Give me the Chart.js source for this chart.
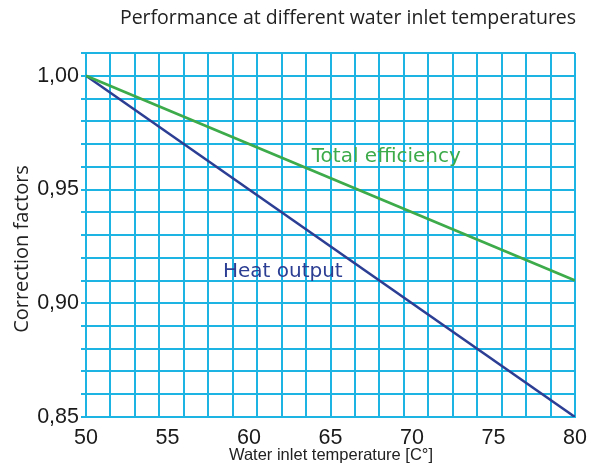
<!DOCTYPE html>
<html>
<head>
<meta charset="utf-8">
<script src="https://cdn.jsdelivr.net/npm/chart.js@4"></script>
<style>
  html, body { margin: 0; padding: 0; background: #fff; }
  #wrap { width: 595px; height: 466px; position: relative; }
</style>
</head>
<body>
<div id="wrap"><canvas id="chart" width="595" height="466"></canvas></div>
<script>
// temperatures (C) and correction factors
const temps = [50, 80];
const heatOutput = [1.00, 0.85];
const totalEfficiency = [1.00, 0.91];
const yTickLabels = [0.85, 0.90, 0.95, 1.00];
const xTickLabels = [50, 55, 60, 65, 70, 75, 80];

const gridColor = "#1db4e4";
const greenColor = "#3dab4a";
const blueColor = "#2c3e93";

// text placed in data coordinates
const seriesLabels = [
  { text: "Total efficiency", x: 63.85, y: 0.9644, color: greenColor },
  { text: "Heat output", x: 58.4, y: 0.9138, color: blueColor },
];

const textPlugin = {
  id: "texts",
  afterDraw(chart) {
    const ctx = chart.ctx;
    const xs = chart.scales.x;
    const ys = chart.scales.y;
    ctx.save();
    ctx.textBaseline = "middle";
    ctx.textAlign = "left";
    ctx.font = "20px 'DejaVu Sans'";
    seriesLabels.forEach((l) => {
      ctx.fillStyle = l.color;
      ctx.fillText(l.text, xs.getPixelForValue(l.x), ys.getPixelForValue(l.y));
    });

    ctx.fillStyle = "#222";
    ctx.textAlign = "center";
    ctx.font = "19.5px 'Open Sans'";
    ctx.fillText("Performance at different water inlet temperatures", 348, 18);

    ctx.font = "16.5px 'Liberation Sans'";
    ctx.fillText("Water inlet temperature [C°]", 331, 455);

    ctx.translate(22, 249);
    ctx.rotate(-Math.PI / 2);
    ctx.font = "20px 'Open Sans'";
    ctx.fillText("Correction factors", 0, 0);
    ctx.restore();
  },
};

new Chart(document.getElementById("chart"), {
  type: "line",
  data: {
    datasets: [
      {
        label: "Total efficiency",
        data: temps.map((t, i) => ({ x: t, y: totalEfficiency[i] })),
        borderColor: greenColor,
        borderWidth: 2.6,
        pointRadius: 0,
        tension: 0,
      },
      {
        label: "Heat output",
        data: temps.map((t, i) => ({ x: t, y: heatOutput[i] })),
        borderColor: blueColor,
        borderWidth: 2.6,
        pointRadius: 0,
        tension: 0,
      },
    ],
  },
  options: {
    responsive: false,
    animation: false,
    layout: { padding: { top: 53, right: 17, left: 0, bottom: 0 } },
    plugins: {
      legend: { display: false },
      tooltip: { enabled: false },
    },
    scales: {
      x: {
        type: "linear",
        position: "bottom",
        min: 50,
        max: 80,
        afterBuildTicks: (scale) => {
          scale.ticks = xTickLabels.map((v) => ({ value: v }));
        },
        grid: { display: false, drawTicks: false },
        border: { color: gridColor, width: 2 },
        ticks: {
          color: "#1a1a1a",
          font: { family: "'Liberation Sans', Arial", size: 21.5 },
          padding: 8,
          maxRotation: 0,
          autoSkip: false,
        },
        afterFit: (scale) => {
          scale.height = 49;
        },
      },
      xg: {
        type: "linear",
        position: "bottom",
        min: 50,
        max: 80,
        afterBuildTicks: (scale) => {
          const t = [];
          for (let i = 0; i <= 20; i++) t.push({ value: 50 + i * 1.5 });
          scale.ticks = t;
        },
        ticks: { display: false, autoSkip: false },
        grid: { color: gridColor, lineWidth: 2, tickLength: 5 },
        border: { display: false },
        afterFit: (scale) => {
          scale.height = 0;
        },
      },
      y: {
        min: 0.85,
        max: 1.01,
        afterBuildTicks: (scale) => {
          const t = [];
          for (let i = 0; i <= 16; i++) t.push({ value: 0.85 + i * 0.01 });
          scale.ticks = t;
        },
        grid: { color: gridColor, lineWidth: 2, tickLength: 5 },
        border: { color: gridColor, width: 2 },
        ticks: {
          color: "#1a1a1a",
          padding: 2,
          autoSkip: false,
          font: { family: "'Liberation Sans', Arial", size: 21.5 },
          callback: (v) => {
            const hit = yTickLabels.find((l) => Math.abs(l - v) < 1e-6);
            return hit === undefined ? "" : hit.toFixed(2).replace(".", ",");
          },
        },
        afterFit: (scale) => {
          scale.width = 86;
        },
      },
    },
  },
  plugins: [textPlugin],
});
</script>
</body>
</html>
